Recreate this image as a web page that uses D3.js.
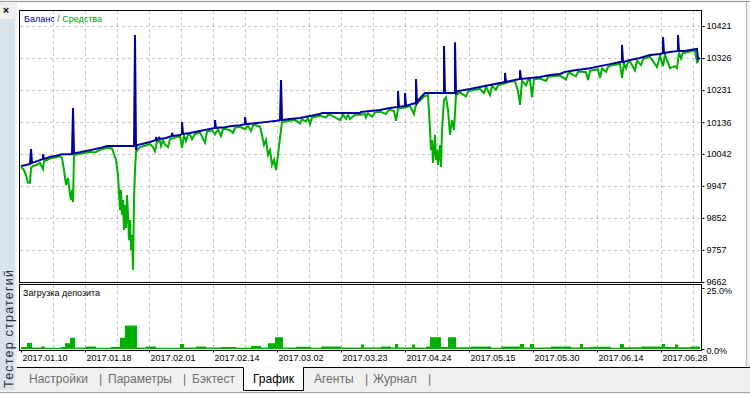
<!DOCTYPE html>
<html>
<head>
<meta charset="utf-8">
<script src="https://cdn.jsdelivr.net/npm/d3@7"></script>
<style>
body { margin: 0; background: #f0f0f0; }
svg { display: block; font-family: "Liberation Sans", Arial, sans-serif; }
</style>
</head>
<body>
<div id="chart"></div>
<script>
// trade number -> balance
var balanceIdx = [0,5,9,10,11,17,22,22,23,29,35,41,51,52,53,59,69,79,86,113,114,115,116,121,129,135,135,136,138,138,139,145,151,151,152,159,161,161,162,169,179,189,194,194,195,204,209,219,224,224,225,234,244,254,259,260,261,269,279,289,299,301,339,340,349,359,369,377,377,378,384,384,385,391,395,395,396,399,404,423,423,424,434,434,435,437,449,459,469,479,484,484,485,494,499,499,500,509,519,529,539,544,554,569,579,589,599,601,601,602,609,619,629,639,642,642,643,649,657,657,658,664,669,676,677,679];
var balanceVal = [10006,10009,10012,10056,10015,10021,10027,10041,10027,10033,10036,10041,10041,10178,10044,10047,10053,10059,10065,10065,10394,10053,10068,10071,10077,10083,10092,10083,10086,10092,10086,10089,10095,10104,10095,10098,10101,10136,10101,10104,10110,10116,10119,10142,10119,10121,10124,10127,10130,10151,10130,10133,10136,10139,10142,10261,10142,10145,10148,10154,10160,10163,10163,10166,10169,10172,10178,10181,10228,10181,10184,10222,10184,10190,10193,10264,10193,10207,10222,10222,10362,10222,10222,10373,10222,10228,10234,10240,10246,10252,10255,10282,10255,10261,10264,10290,10264,10267,10270,10276,10279,10285,10290,10296,10302,10308,10314,10314,10365,10314,10320,10326,10335,10338,10341,10388,10341,10344,10347,10394,10347,10347,10350,10353,10323,10326];

// trade number -> equity
var equityIdx = [0,3,5,7,9,10,12,15,19,22,23,29,35,39,41,43,45,47,49,50,51,52,53,55,59,65,69,74,79,86,91,95,97,99,100,101,102,103,104,105,106,107,108,109,110,111,112,113,114,115,119,124,129,132,134,136,139,140,142,144,147,149,154,159,161,163,165,167,169,171,174,179,184,186,191,194,197,200,202,204,209,212,214,219,224,227,230,232,234,239,241,243,245,247,249,251,253,255,257,259,261,264,269,274,279,281,285,287,289,291,299,305,307,309,314,319,322,325,327,329,334,339,344,345,347,351,354,359,365,367,369,373,375,377,384,389,393,395,399,403,407,409,410,411,412,414,415,416,417,419,420,421,423,425,427,429,431,433,435,439,445,447,449,459,463,465,469,471,475,477,479,489,494,497,499,501,505,507,509,511,513,519,525,527,529,539,545,547,549,555,557,559,565,567,569,577,579,581,585,587,589,594,599,601,603,605,607,609,614,616,620,622,624,629,636,639,642,644,649,654,656,658,660,662,664,669,674,676,678];
var equityVal = [10003,9994,9979,9956,9956,10000,10006,10008,10015,9997,10020,10028,10032,10035,10030,9994,9950,9970,9920,9905,9935,9899,10038,10040,10042,10045,10048,10046,10054,10060,10058,10024,9979,9875,9935,9861,9905,9816,9890,9822,9920,9861,9786,9846,9757,9801,9698,9905,9994,10048,10062,10066,10071,10062,10050,10078,10080,10065,10082,10070,10062,10085,10090,10094,10060,10096,10080,10098,10099,10085,10101,10105,10075,10108,10112,10100,10114,10095,10115,10116,10112,10104,10119,10122,10115,10125,10110,10126,10128,10122,10098,10068,10083,10039,10053,10009,10024,9994,10039,10090,10136,10138,10140,10142,10132,10144,10138,10148,10130,10150,10155,10150,10157,10158,10150,10142,10158,10146,10158,10145,10158,10158,10160,10150,10162,10152,10165,10167,10160,10170,10173,10168,10140,10176,10179,10184,10160,10188,10200,10212,10216,10113,10053,10083,10015,10098,10024,10053,10009,10068,10003,10113,10202,10210,10172,10098,10142,10113,10216,10224,10212,10227,10229,10235,10222,10242,10216,10243,10232,10246,10247,10256,10258,10228,10187,10258,10245,10261,10262,10210,10263,10265,10258,10270,10271,10274,10262,10280,10282,10272,10285,10286,10284,10261,10288,10293,10267,10295,10285,10300,10303,10306,10309,10267,10310,10296,10313,10315,10290,10318,10305,10322,10325,10330,10299,10333,10302,10336,10296,10302,10296,10342,10325,10342,10342,10345,10348,10314,10320];

// deposit load, %, held from this trade to the next
var loadIdx = [0,6,11,20,24,40,44,49,54,65,75,90,99,104,116,125,135,159,163,175,185,200,215,230,240,247,254,262,275,290,300,320,340,343,360,370,374,377,391,394,405,409,420,427,435,450,470,480,499,503,509,513,530,550,559,562,570,590,599,603,620,641,644,654,657,670,679];
var loadPct = [0.8,2.5,0.6,1.0,0.5,0.8,2.4,4.6,0.6,1.0,0.5,0.8,4.6,9.6,0.6,1.0,0.5,2.0,0.6,1.0,0.6,0.8,0.5,1.2,0.6,2.4,4.8,0.6,0.9,0.5,1.0,0.6,1.8,0.6,1.0,0.6,2.0,0.6,1.8,0.6,1.0,4.8,0.8,4.8,0.7,1.0,0.5,1.0,2.0,0.6,2.0,0.6,1.0,0.6,2.0,0.7,0.9,0.5,2.0,0.7,1.0,2.0,0.8,1.8,0.7,1.0,0];

var dateLabels = ['2017.01.10','2017.01.18','2017.02.01','2017.02.14','2017.03.02','2017.03.23','2017.04.24','2017.05.15','2017.05.30','2017.06.14','2017.06.28'];
var dateIdx = [0,64,128,192,256,320,384,448,512,576,640];
var valueTicks = [9662,9757,9852,9947,10042,10136,10231,10326,10421];
var loadTicks = [0,25];
var tabNames = ['Настройки','Параметры','Бэктест','График','Агенты','Журнал'];

var svg = d3.select('#chart').append('svg').attr('width', 750).attr('height', 394);

// window chrome
svg.append('rect').attr('width', 750).attr('height', 394).attr('fill', '#f0f0f0');
svg.append('rect').attr('x', 17).attr('y', 3).attr('width', 729).attr('height', 364).attr('fill', '#fff');
svg.append('line').attr('x1', 0).attr('x2', 750).attr('y1', 1.5).attr('y2', 1.5).attr('stroke', '#a0a0a0');
svg.append('line').attr('x1', 746.5).attr('x2', 746.5).attr('y1', 2).attr('y2', 367).attr('stroke', '#b4b4b4');
svg.append('rect').attr('x', 0).attr('y', 19).attr('width', 15).attr('height', 371).attr('fill', '#d9e1ea');
svg.append('text').attr('x', 6).attr('y', 14).attr('text-anchor', 'middle')
	.attr('font-size', 11).attr('font-weight', 'bold').text('×');
svg.append('text')
	.attr('transform', 'translate(12.5,388) rotate(-90)')
	.attr('font-size', 12.5).attr('fill', '#333')
	.attr('textLength', 118).attr('lengthAdjust', 'spacing')
	.text('Тестер стратегий');

var x = d3.scaleLinear().domain([0, 680]).range([21, 701]);
var y = d3.scaleLinear().domain([9662, 10421]).range([282, 26]);
var yLoad = d3.scaleLinear().domain([0, 25]).range([349, 288]);

// grid
var grid = svg.append('g').attr('stroke', '#c8c8c8').attr('stroke-dasharray', '3,3');
d3.range(32, 680, 32).forEach(function(i) {
	grid.append('line').attr('x1', x(i) + 0.5).attr('x2', x(i) + 0.5).attr('y1', 11).attr('y2', 282);
	grid.append('line').attr('x1', x(i) + 0.5).attr('x2', x(i) + 0.5).attr('y1', 285).attr('y2', 350);
});
valueTicks.slice(1).forEach(function(v) {
	grid.append('line').attr('x1', 20).attr('x2', 701).attr('y1', Math.round(y(v)) + 0.5).attr('y2', Math.round(y(v)) + 0.5);
});

svg.append('clipPath').attr('id', 'clipTop').append('rect').attr('x', 20).attr('y', 11).attr('width', 681).attr('height', 271);

var line = d3.line().x(function(d) { return x(d[0]); }).y(function(d) { return y(d[1]); });

svg.append('path')
	.attr('clip-path', 'url(#clipTop)')
	.attr('d', line(d3.zip(equityIdx, equityVal)))
	.attr('fill', 'none').attr('stroke', '#00b000').attr('stroke-width', 2);

svg.append('path')
	.attr('clip-path', 'url(#clipTop)')
	.attr('d', line(d3.zip(balanceIdx, balanceVal)))
	.attr('fill', 'none').attr('stroke', '#0000a0').attr('stroke-width', 2);

// deposit load
var area = d3.area()
	.curve(d3.curveStepAfter)
	.x(function(d) { return x(d[0]); })
	.y0(yLoad(0))
	.y1(function(d) { return yLoad(d[1]); });

svg.append('path')
	.attr('d', area(d3.zip(loadIdx, loadPct)))
	.attr('fill', '#00b000');

// frames
svg.append('rect').attr('x', 19.5).attr('y', 10.5).attr('width', 682).attr('height', 272)
	.attr('fill', 'none').attr('stroke', '#000');
svg.append('rect').attr('x', 19.5).attr('y', 284.5).attr('width', 682).attr('height', 66)
	.attr('fill', 'none').attr('stroke', '#000');

// right axes
var yAxis = svg.append('g')
	.attr('transform', 'translate(701.5,0)')
	.call(d3.axisRight(y).tickValues(valueTicks).tickSize(3).tickPadding(2).tickFormat(d3.format('d')));
yAxis.select('.domain').remove();
yAxis.selectAll('text').attr('font-size', 9).attr('font-family', '"Liberation Sans", Arial, sans-serif');

var loadAxis = svg.append('g')
	.attr('transform', 'translate(701.5,0)')
	.call(d3.axisRight(yLoad).tickValues(loadTicks).tickSize(3).tickPadding(2).tickFormat(function(d) { return d.toFixed(1) + '%'; }));
loadAxis.select('.domain').remove();
loadAxis.selectAll('text').attr('font-size', 9).attr('font-family', '"Liberation Sans", Arial, sans-serif')
	.attr('dy', function(d) { return d === 25 ? '0.65em' : '0.45em'; });

// date axis
var xAxis = svg.append('g')
	.attr('transform', 'translate(0,350.5)')
	.call(d3.axisBottom(x).tickValues(dateIdx).tickSize(2).tickPadding(2).tickFormat(function(d, i) { return dateLabels[i]; }));
xAxis.select('.domain').remove();
xAxis.selectAll('text').attr('font-size', 9).attr('font-family', '"Liberation Sans", Arial, sans-serif')
	.attr('text-anchor', 'start').attr('dx', 1);

// legend
var legend = svg.append('text').attr('x', 24).attr('y', 21.5).attr('font-size', 9);
legend.append('tspan').attr('fill', '#0000a0').text('Баланс');
legend.append('tspan').attr('fill', '#555').text(' / ');
legend.append('tspan').attr('fill', '#00a000').text('Средства');

svg.append('text').attr('x', 23).attr('y', 296).attr('font-size', 9).attr('fill', '#000').text('Загрузка депозита');

// tabs
svg.append('line').attr('x1', 17).attr('x2', 243).attr('y1', 367.5).attr('y2', 367.5).attr('stroke', '#000');
svg.append('line').attr('x1', 303).attr('x2', 750).attr('y1', 367.5).attr('y2', 367.5).attr('stroke', '#000');
svg.append('path').attr('d', 'M243.5,367.5V390.5H303.5V367.5').attr('fill', '#fff').attr('stroke', '#000');
svg.append('line').attr('x1', 0).attr('x2', 750).attr('y1', 392.5).attr('y2', 392.5).attr('stroke', '#a8a8a8');

var tabX = [29, 108, 192, 253, 314, 373];
var sepX = [99, 183, 365, 428];
tabNames.forEach(function(t, i) {
	svg.append('text').attr('x', tabX[i]).attr('y', 383).attr('font-size', 12)
		.attr('fill', t === 'График' ? '#000' : '#6e6e6e').text(t);
});
sepX.forEach(function(sx) {
	svg.append('text').attr('x', sx).attr('y', 383).attr('font-size', 12).attr('fill', '#6e6e6e').text('|');
});
</script>
</body>
</html>
